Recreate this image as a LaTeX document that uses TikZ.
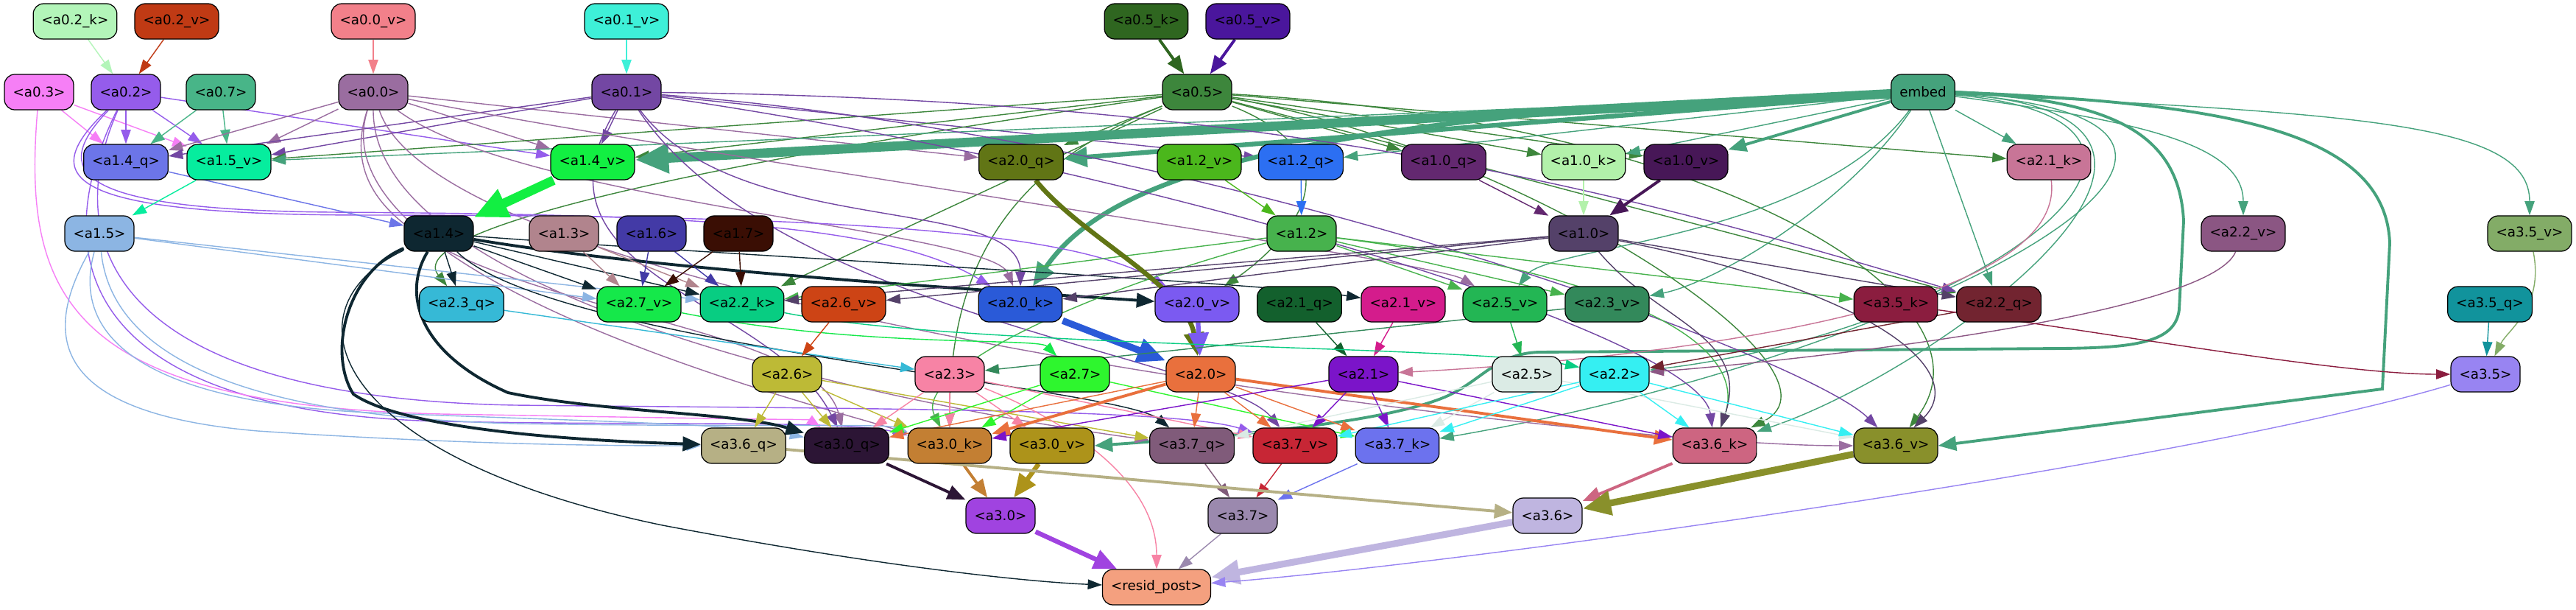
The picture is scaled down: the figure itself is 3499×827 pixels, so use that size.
\documentclass[tikz,border=0pt]{standalone}
\usepackage{fontspec}
\setmainfont{DejaVu Sans}
\usetikzlibrary{arrows.meta}
\pgfdeclarelayer{bgl}
\pgfdeclarelayer{edl}
\pgfsetlayers{bgl,edl,main}
\definecolor{c02k}{HTML}{B3F5B9}\definecolor{c02v}{HTML}{C03A14}\definecolor{c00v}{HTML}{F2808A}
\definecolor{c01v}{HTML}{3EF0D8}\definecolor{c05k}{HTML}{2F6620}\definecolor{c05v}{HTML}{4A169C}
\definecolor{c03}{HTML}{F67FF6}\definecolor{c02}{HTML}{955CEB}\definecolor{c07}{HTML}{48B588}
\definecolor{c00}{HTML}{9A6DA0}\definecolor{c01}{HTML}{7347A3}\definecolor{c05}{HTML}{3D863C}
\definecolor{cem}{HTML}{45A27C}\definecolor{c14q}{HTML}{6C75E8}\definecolor{c15v}{HTML}{06ED9E}
\definecolor{c14v}{HTML}{12EF42}\definecolor{c20q}{HTML}{617515}\definecolor{c12v}{HTML}{4BB71C}
\definecolor{c12q}{HTML}{2C6FF2}\definecolor{c10q}{HTML}{632870}\definecolor{c10k}{HTML}{B2F1AA}
\definecolor{c10v}{HTML}{471757}\definecolor{c21k}{HTML}{C87597}\definecolor{c15}{HTML}{8CB5E3}
\definecolor{c14}{HTML}{0E2731}\definecolor{c13}{HTML}{B1848D}\definecolor{c16}{HTML}{433AA6}
\definecolor{c17}{HTML}{3A0E04}\definecolor{c12}{HTML}{47B24D}\definecolor{c10}{HTML}{544169}
\definecolor{c22v}{HTML}{8B5683}\definecolor{c35v}{HTML}{83AC67}\definecolor{c23q}{HTML}{36B9D6}
\definecolor{c27v}{HTML}{15E84A}\definecolor{c22k}{HTML}{08CD82}\definecolor{c26v}{HTML}{CD4415}
\definecolor{c20k}{HTML}{2A5AD8}\definecolor{c20v}{HTML}{7B5AF1}\definecolor{c21q}{HTML}{13602D}
\definecolor{c21v}{HTML}{D41C8C}\definecolor{c25v}{HTML}{23B654}\definecolor{c23v}{HTML}{33895B}
\definecolor{c35k}{HTML}{8B1D3F}\definecolor{c22q}{HTML}{722430}\definecolor{c35q}{HTML}{11939C}
\definecolor{c26}{HTML}{BDBA36}\definecolor{c23}{HTML}{F783A5}\definecolor{c27}{HTML}{2EF62E}
\definecolor{c20}{HTML}{E9703D}\definecolor{c21}{HTML}{7B14C9}\definecolor{c25}{HTML}{DBEBE5}
\definecolor{c22}{HTML}{35EFF2}\definecolor{c35}{HTML}{9884F2}\definecolor{c36q}{HTML}{B6B085}
\definecolor{c30q}{HTML}{2C1535}\definecolor{c30k}{HTML}{C37F33}\definecolor{c30v}{HTML}{AD931A}
\definecolor{c37q}{HTML}{805B7A}\definecolor{c37v}{HTML}{C72635}\definecolor{c37k}{HTML}{6C72EE}
\definecolor{c36k}{HTML}{CD6581}\definecolor{c36v}{HTML}{89902B}\definecolor{c30}{HTML}{A043E0}
\definecolor{c37}{HTML}{9B89AE}\definecolor{c36}{HTML}{BFB5E0}\definecolor{cres}{HTML}{F4A07F}
\tikzset{
  nd/.style={draw=black, line width=0.35pt, rounded corners=4pt, minimum height=0.48cm,
    inner xsep=0.115cm, inner ysep=0pt, font=\fontsize{5.2pt}{6pt}\selectfont},
  e1/.style={line width=0.4pt, -{Triangle[length=5.5pt,width=3.8pt]}},
  e2/.style={line width=1.1pt, -{Triangle[length=7pt,width=5.5pt]}},
  e3/.style={line width=1.8pt, -{Triangle[length=9pt,width=7.5pt]}},
  e4/.style={line width=2.6pt, -{Triangle[length=11pt,width=9pt]}},
  e5/.style={line width=3.6pt, -{Triangle[length=13pt,width=11pt]}},
}
\newcommand\edgeS[4]{\draw[#1,draw=#2] (#3) -- (#4);}
\newcommand\edgeC[6]{\draw[#1,draw=#2] (#3) .. controls +(#5) and +(#6) .. (#4);}
\begin{document}
\begin{tikzpicture}[x=0.01cm,y=-0.01cm]
\begin{pgfonlayer}{bgl}
\fill[white] (0,0) rectangle (3499,827);
\end{pgfonlayer}
\useasboundingbox (0,0) rectangle (3499,827);
% row 0
\node[nd,fill=c02k] (a02k) at (102,29) {<a0.2\_k>};
\node[nd,fill=c02v] (a02v) at (240,29) {<a0.2\_v>};
\node[nd,fill=c00v] (a00v) at (507,29) {<a0.0\_v>};
\node[nd,fill=c01v] (a01v) at (851,29) {<a0.1\_v>};
\node[nd,fill=c05k] (a05k) at (1557,29) {<a0.5\_k>};
\node[nd,fill=c05v] (a05v) at (1695,29) {<a0.5\_v>};
% row 1
\node[nd,fill=c03] (a03) at (53,125) {<a0.3>};
\node[nd,fill=c02] (a02) at (171,125) {<a0.2>};
\node[nd,fill=c07] (a07) at (300,125) {<a0.7>};
\node[nd,fill=c00] (a00) at (507,125) {<a0.0>};
\node[nd,fill=c01] (a01) at (851,125) {<a0.1>};
\node[nd,fill=c05] (a05) at (1626,125) {<a0.5>};
\node[nd,fill=cem] (embed) at (2612,125) {embed};
% row 2
\node[nd,fill=c14q] (a14q) at (171,220) {<a1.4\_q>};
\node[nd,fill=c15v] (a15v) at (311,220) {<a1.5\_v>};
\node[nd,fill=c14v] (a14v) at (805,220) {<a1.4\_v>};
\node[nd,fill=c20q] (a20q) at (1387,220) {<a2.0\_q>};
\node[nd,fill=c12v] (a12v) at (1629,220) {<a1.2\_v>};
\node[nd,fill=c12q] (a12q) at (1767,220) {<a1.2\_q>};
\node[nd,fill=c10q] (a10q) at (1961,220) {<a1.0\_q>};
\node[nd,fill=c10k] (a10k) at (2151,220) {<a1.0\_k>};
\node[nd,fill=c10v] (a10v) at (2290,220) {<a1.0\_v>};
\node[nd,fill=c21k] (a21k) at (2783,220) {<a2.1\_k>};
% row 3
\node[nd,fill=c15] (a15) at (135,317) {<a1.5>};
\node[nd,fill=c14] (a14) at (596,317) {<a1.4>};
\node[nd,fill=c13] (a13) at (766,317) {<a1.3>};
\node[nd,fill=c16] (a16) at (885,317) {<a1.6>};
\node[nd,fill=c17] (a17) at (1003,317) {<a1.7>};
\node[nd,fill=c12] (a12) at (1768,317) {<a1.2>};
\node[nd,fill=c10] (a10) at (2151,317) {<a1.0>};
\node[nd,fill=c22v] (a22v) at (3047,317) {<a2.2\_v>};
\node[nd,fill=c35v] (a35v) at (3436,317) {<a3.5\_v>};
% row 4
\node[nd,fill=c23q] (a23q) at (627,413) {<a2.3\_q>};
\node[nd,fill=c27v] (a27v) at (868,413) {<a2.7\_v>};
\node[nd,fill=c22k] (a22k) at (1008,413) {<a2.2\_k>};
\node[nd,fill=c26v] (a26v) at (1146,413) {<a2.6\_v>};
\node[nd,fill=c20k] (a20k) at (1386,413) {<a2.0\_k>};
\node[nd,fill=c20v] (a20v) at (1626,413) {<a2.0\_v>};
\node[nd,fill=c21q] (a21q) at (1765,413) {<a2.1\_q>};
\node[nd,fill=c21v] (a21v) at (1906,413) {<a2.1\_v>};
\node[nd,fill=c25v] (a25v) at (2044,413) {<a2.5\_v>};
\node[nd,fill=c23v] (a23v) at (2183,413) {<a2.3\_v>};
\node[nd,fill=c35k] (a35k) at (2575,413) {<a3.5\_k>};
\node[nd,fill=c22q] (a22q) at (2715,413) {<a2.2\_q>};
\node[nd,fill=c35q] (a35q) at (3382,413) {<a3.5\_q>};
% row 5
\node[nd,fill=c26] (a26) at (1069,508) {<a2.6>};
\node[nd,fill=c23] (a23) at (1290,508) {<a2.3>};
\node[nd,fill=c27] (a27) at (1460,508) {<a2.7>};
\node[nd,fill=c20] (a20) at (1631,508) {<a2.0>};
\node[nd,fill=c21] (a21) at (1852,508) {<a2.1>};
\node[nd,fill=c25] (a25) at (2074,508) {<a2.5>};
\node[nd,fill=c22] (a22) at (2193,508) {<a2.2>};
\node[nd,fill=c35] (a35) at (3376,508) {<a3.5>};
% row 6
\node[nd,fill=c36q] (a36q) at (1010,605) {<a3.6\_q>};
\node[nd,fill=c30q] (a30q) at (1150,605) {<a3.0\_q>};
\node[nd,fill=c30k] (a30k) at (1290,605) {<a3.0\_k>};
\node[nd,fill=c30v] (a30v) at (1429,605) {<a3.0\_v>};
\node[nd,fill=c37q] (a37q) at (1619,605) {<a3.7\_q>};
\node[nd,fill=c37v] (a37v) at (1759,605) {<a3.7\_v>};
\node[nd,fill=c37k] (a37k) at (1898,605) {<a3.7\_k>};
\node[nd,fill=c36k] (a36k) at (2329,605) {<a3.6\_k>};
\node[nd,fill=c36v] (a36v) at (2575,605) {<a3.6\_v>};
% row 7
\node[nd,fill=c30] (a30) at (1359,700) {<a3.0>};
\node[nd,fill=c37] (a37) at (1688,700) {<a3.7>};
\node[nd,fill=c36] (a36) at (2102,700) {<a3.6>};
% row 8
\node[nd,fill=cres] (resid) at (1571,797) {<resid\_post>};

\begin{pgfonlayer}{edl}
% row 0 -> 1
\edgeS{e1}{c02k}{a02k}{a02}
\edgeS{e1}{c02v}{a02v}{a02}
\edgeS{e1}{c00v}{a00v}{a00}
\edgeS{e1}{c01v}{a01v}{a01}
\edgeS{e2}{c05k}{a05k}{a05}
\edgeS{e2}{c05v}{a05v}{a05}
% row 1 -> 2
\edgeS{e1}{c03}{a03}{a14q}
\edgeS{e1}{c03}{a03}{a15v}
\edgeS{e1}{c02}{a02}{a14q}
\edgeS{e1}{c02}{a02}{a15v}
\edgeS{e1}{c02}{a02}{a14v}
\edgeS{e1}{c07}{a07}{a14q}
\edgeS{e1}{c07}{a07}{a15v}
\edgeS{e1}{c00}{a00}{a14q}
\edgeS{e1}{c00}{a00}{a15v}
\edgeS{e1}{c00}{a00}{a14v}
\edgeS{e1}{c00}{a00}{a20q}
\edgeS{e1}{c01}{a01}{a14q}
\edgeS{e1}{c01}{a01}{a15v}
\edgeS{e1}{c01}{a01}{a14v}
\edgeS{e1}{c01}{a01}{a12q}
\edgeS{e1}{c05}{a05}{a14v}
\edgeS{e1}{c05}{a05}{a15v}
\edgeS{e1}{c05}{a05}{a20q}
\edgeS{e1}{c05}{a05}{a10q}
\edgeS{e1}{c05}{a05}{a10k}
\edgeS{e1}{c05}{a05}{a10v}
\edgeS{e1}{c05}{a05}{a21k}
\edgeS{e1}{c05}{a05}{a22q}
\edgeS{e1}{c05}{a05}{a22k}
\edgeC{e1}{c05}{a05}{a23q}{-700,100}{-80,-100}
\edgeC{e1}{c05}{a05}{a20v}{250,100}{90,-60}
\edgeC{e1}{c05}{a05}{a36v}{700,40}{150,-200}
\edgeC{e1}{c05}{a05}{a36k}{450,80}{200,-100}
\edgeC{e1}{c05}{a05}{a30k}{-250,100}{0,-250}
% embed
\edgeS{e5}{cem}{embed}{a14v}
\edgeS{e1}{cem}{embed}{a15v}
\edgeS{e3}{cem}{embed}{a20q}
\edgeC{e3}{cem}{embed}{a20k}{-900,30}{110,-160}
\edgeS{e1}{cem}{embed}{a12q}
\edgeS{e1}{cem}{embed}{a10k}
\edgeS{e2}{cem}{embed}{a10v}
\edgeS{e1}{cem}{embed}{a21k}
\edgeS{e1}{cem}{embed}{a22q}
\edgeC{e1}{cem}{embed}{a22v}{300,40}{0,-120}
\edgeC{e1}{cem}{embed}{a35v}{600,30}{0,-150}
\edgeC{e1}{cem}{embed}{a23v}{-100,150}{150,-30}
\edgeC{e1}{cem}{embed}{a25v}{-150,200}{60,-80}
\edgeC{e1}{cem}{embed}{a36k}{500,30}{300,-100}
\edgeC{e1}{cem}{embed}{a37k}{600,40}{700,-120}
\edgeC{e1}{cem}{embed}{a22}{450,40}{500,-60}
\draw[e2,draw=cem] (embed.east) .. controls (3000,140) and (3240,170) .. (3246,330) -- (3236,528) -- (a36v.east);
\draw[e2,draw=cem] (embed.east) .. controls (2850,135) and (2960,170) .. (2966,300) -- (2960,420) .. controls (2955,465) and (2900,472) .. (2800,473) -- (2090,478) .. controls (2030,480) and (2010,520) .. (1960,540) .. controls (1880,572) and (1700,590) .. (a30v.east);
% a0.x long edges
\edgeC{e1}{c00}{a00}{a20k}{200,150}{-40,-100}
\edgeC{e1}{c00}{a00}{a25v}{400,80}{-100,-60}
\edgeC{e1}{c00}{a00}{a30k}{-80,250}{-200,-60}
\edgeC{e1}{c00}{a00}{a37q}{0,300}{-300,-40}
\edgeC{e1}{c00}{a00}{a36v}{100,300}{-400,0}
\edgeC{e1}{c00}{a00}{a30q}{-100,300}{-50,-200}
\edgeC{e1}{c01}{a01}{a22q}{900,10}{-500,-150}
\edgeC{e1}{c01}{a01}{a20k}{150,200}{0,-150}
\edgeC{e1}{c01}{a01}{a30q}{-150,250}{-100,-200}
\edgeC{e1}{c01}{a01}{a36v}{800,60}{-120,-120}
\edgeC{e1}{c01}{a01}{a36k}{700,100}{-20,-150}
\edgeC{e1}{c01}{a01}{a37v}{200,300}{-100,-120}
\draw[e1,draw=c02] (a02) .. controls (70,230) and (90,285) .. (450,288) .. controls (900,291) and (1200,300) .. (a20k);
\draw[e1,draw=c02] (a02) .. controls (50,240) and (80,292) .. (500,292) .. controls (1100,292) and (1450,310) .. (a20v);
\draw[e1,draw=c02] (a02) .. controls (60,350) and (110,560) .. (600,572) .. controls (900,578) and (1150,570) .. (a30k);
\draw[e1,draw=c02] (a02) .. controls (80,330) and (150,540) .. (700,550) .. controls (1200,555) and (1600,555) .. (a37v);
\draw[e1,draw=c03] (a03) .. controls (30,400) and (90,550) .. (600,562) .. controls (950,568) and (1100,570) .. (a30q);
% row 2 -> 3
\edgeS{e1}{c14q}{a14q}{a14}
\edgeS{e5}{c14v}{a14v}{a14}
\edgeS{e1}{c15v}{a15v}{a15}
\edgeS{e1}{c12v}{a12v}{a12}
\edgeS{e1}{c12q}{a12q}{a12}
\edgeS{e1}{c10q}{a10q}{a10}
\edgeS{e1}{c10k}{a10k}{a10}
\edgeS{e2}{c10v}{a10v}{a10}
% a1.5
\edgeS{e1}{c15}{a15}{a27v}
\edgeS{e1}{c15}{a15}{a22k}
\draw[e1,draw=c15] (a15) .. controls (60,450) and (60,560) .. (350,585) .. controls (650,605) and (850,605) .. (a36q);
\draw[e1,draw=c15] (a15) .. controls (95,460) and (200,545) .. (500,560) .. controls (800,572) and (1000,575) .. (a30q);
\draw[e1,draw=c15] (a15) .. controls (150,470) and (300,565) .. (700,575) .. controls (1000,580) and (1200,575) .. (a30k);
% a1.4
\edgeS{e1}{c14}{a14}{a23q}
\edgeS{e1}{c14}{a14}{a27v}
\edgeS{e1}{c14}{a14}{a22k}
\edgeC{e2}{c14}{a14}{a20v}{300,50}{-300,-20}
\edgeC{e1}{c14}{a14}{a21v}{400,30}{-200,-30}
\edgeC{e1}{c14}{a14}{a37q}{150,150}{-100,-80}
\draw[e2,draw=c14] (a14) .. controls (470,370) and (445,480) .. (480,535) .. controls (560,590) and (850,600) .. (a36q);
\draw[e2,draw=c14] (a14) .. controls (545,400) and (570,480) .. (690,533) .. controls (820,560) and (1000,560) .. (a30q);
\draw[e1,draw=c14] (a14) .. controls (380,420) and (450,620) .. (900,713) .. controls (1200,770) and (1400,790) .. (resid);
% a1.3 a1.6 a1.7
\edgeS{e1}{c13}{a13}{a27v}
\edgeS{e1}{c13}{a13}{a22k}
\edgeS{e1}{c16}{a16}{a27v}
\edgeS{e1}{c16}{a16}{a22k}
\edgeS{e1}{c17}{a17}{a27v}
\edgeS{e1}{c17}{a17}{a22k}
% a1.2
\edgeS{e1}{c12}{a12}{a22k}
\edgeS{e1}{c12}{a12}{a25v}
\edgeS{e1}{c12}{a12}{a23v}
\edgeS{e1}{c12}{a12}{a35k}
\edgeC{e1}{c12}{a12}{a36k}{400,50}{50,-150}
\edgeC{e1}{c12}{a12}{a30k}{-300,80}{-50,-100}
% a1.0
\edgeS{e1}{c10}{a10}{a20k}
\edgeS{e1}{c10}{a10}{a26v}
\edgeS{e1}{c10}{a10}{a22k}
\edgeS{e1}{c10}{a10}{a22q}
\edgeC{e1}{c10}{a10}{a36k}{100,120}{50,-150}
\edgeC{e1}{c10}{a10}{a36v}{400,80}{100,-100}
% row 4 -> 5
\edgeC{e3}{c20q}{a20q}{a20}{80,100}{-20,-120}
\edgeS{e4}{c20k}{a20k}{a20}
\edgeS{e3}{c20v}{a20v}{a20}
\edgeS{e1}{c21q}{a21q}{a21}
\edgeS{e1}{c21v}{a21v}{a21}
\edgeC{e1}{c21k}{a21k}{a21}{30,230}{200,-10}
\edgeS{e1}{c25v}{a25v}{a25}
\edgeS{e1}{c23v}{a23v}{a23}
\edgeS{e1}{c23q}{a23q}{a23}
\edgeC{e1}{c22k}{a22k}{a22}{300,60}{-200,-40}
\edgeC{e1}{c22v}{a22v}{a22}{-50,120}{150,-10}
\edgeS{e1}{c22q}{a22q}{a22}
\edgeC{e1}{c27v}{a27v}{a27}{300,60}{-50,-50}
\edgeS{e1}{c26v}{a26v}{a26}
\edgeC{e1}{c35k}{a35k}{a35}{300,40}{-200,0}
\edgeS{e1}{c35q}{a35q}{a35}
\edgeC{e1}{c35v}{a35v}{a35}{20,100}{30,-60}
% row 5 -> 6
\edgeS{e1}{c26}{a26}{a36q}
\edgeS{e1}{c26}{a26}{a30q}
\edgeS{e1}{c26}{a26}{a30k}
\edgeS{e1}{c26}{a26}{a37q}
\edgeS{e1}{c23}{a23}{a30q}
\edgeS{e1}{c23}{a23}{a30k}
\edgeS{e1}{c23}{a23}{a30v}
\edgeS{e1}{c23}{a23}{a37v}
\edgeC{e1}{c23}{a23}{resid}{150,60}{0,-150}
\edgeS{e1}{c27}{a27}{a30k}
\edgeS{e1}{c27}{a27}{a30q}
\edgeS{e1}{c27}{a27}{a37k}
\edgeS{e2}{c20}{a20}{a30k}
\edgeS{e2}{c20}{a20}{a36k}
\edgeS{e1}{c20}{a20}{a37q}
\edgeS{e1}{c20}{a20}{a37v}
\edgeS{e1}{c20}{a20}{a30q}
\edgeS{e1}{c20}{a20}{a37k}
\edgeS{e1}{c21}{a21}{a37k}
\edgeS{e1}{c21}{a21}{a36k}
\edgeS{e1}{c21}{a21}{a37v}
\edgeS{e1}{c21}{a21}{a30k}
\edgeS{e1}{c25}{a25}{a37k}
\edgeS{e1}{c25}{a25}{a36v}
\edgeS{e1}{c25}{a25}{a37q}
\edgeS{e1}{c22}{a22}{a37k}
\edgeS{e1}{c22}{a22}{a36k}
\edgeS{e1}{c22}{a22}{a36v}
\edgeS{e1}{c22}{a22}{a37v}
% row 6 -> 7
\edgeS{e2}{c30q}{a30q}{a30}
\edgeS{e2}{c30k}{a30k}{a30}
\edgeS{e3}{c30v}{a30v}{a30}
\edgeS{e1}{c37q}{a37q}{a37}
\edgeS{e1}{c37v}{a37v}{a37}
\edgeS{e1}{c37k}{a37k}{a37}
\edgeS{e2}{c36q}{a36q}{a36}
\edgeS{e2}{c36k}{a36k}{a36}
\edgeS{e4}{c36v}{a36v}{a36}
% -> resid
\edgeS{e3}{c30}{a30}{resid}
\edgeS{e1}{c37}{a37}{resid}
\edgeS{e4}{c36}{a36}{resid}
\edgeC{e1}{c35}{a35}{resid}{-400,120}{400,-30}
\end{pgfonlayer}
\end{tikzpicture}
\end{document}
